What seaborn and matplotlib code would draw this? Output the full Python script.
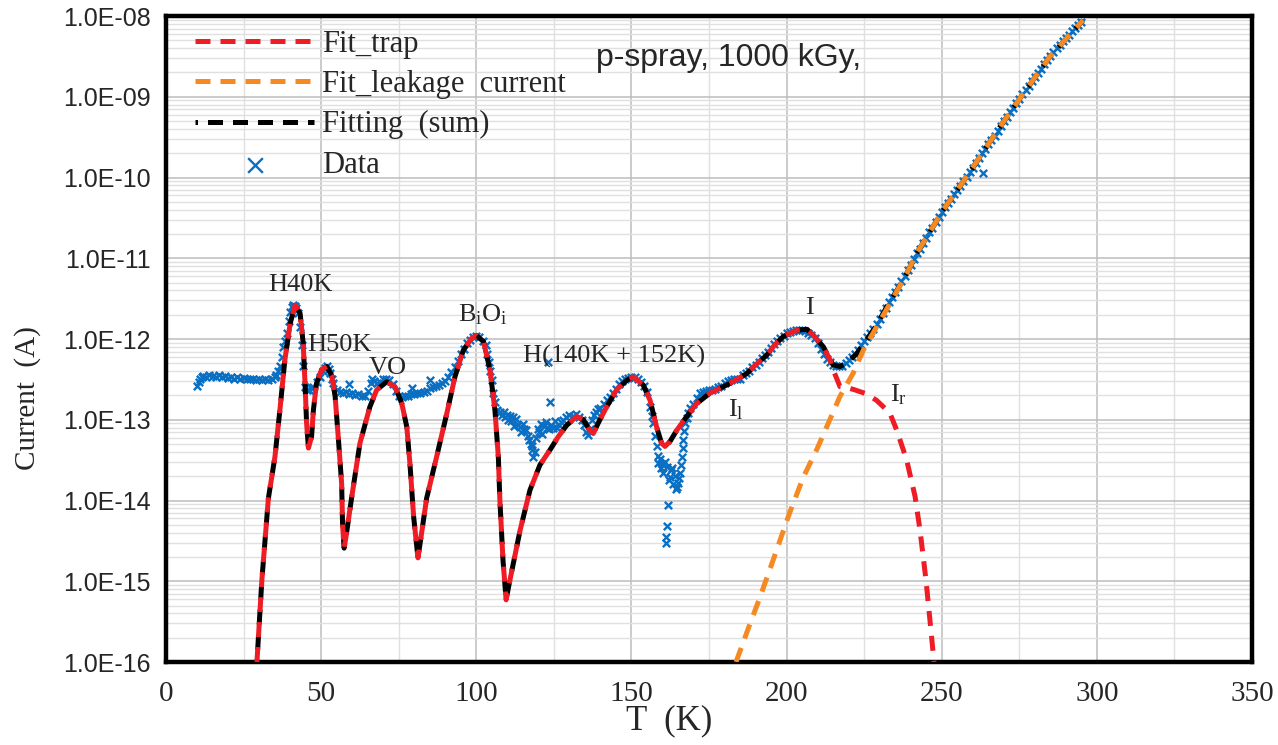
import numpy as np
import pandas as pd
import matplotlib
matplotlib.use("Agg")
import matplotlib.pyplot as plt
import matplotlib.ticker as mticker
import seaborn as sns

# measured TSC data: (T in K, log10 of current in A)
data_pts = [
    (10.0, -12.58), (10.5, -12.53), (11, -12.49), (11.5, -12.47), (12, -12.46), (13, -12.47), (14, -12.45),
    (15, -12.46), (16, -12.47), (17, -12.45), (18, -12.47), (19, -12.46), (20, -12.48), (21, -12.47),
    (22, -12.49), (23, -12.47), (24, -12.49), (25, -12.48), (26, -12.50), (27, -12.49), (28, -12.50),
    (29, -12.51), (30, -12.50), (31, -12.51), (32, -12.50), (33, -12.51), (34, -12.49), (35, -12.47),
    (35.5, -12.44), (36, -12.40), (36.7, -12.34), (37.3, -12.22), (37.8, -12.10), (38.3, -12.02),
    (38.9, -11.93), (39.5, -11.78), (40.0, -11.66), (40.5, -11.60), (41.0, -11.58), (41.5, -11.59),
    (42.0, -11.62), (42.6, -11.68), (43.2, -11.85), (43.7, -12.07), (44.2, -12.34), (44.8, -12.59),
    (45.3, -12.63), (46.0, -12.63), (46.6, -12.61), (47.5, -12.59), (48.5, -12.53), (49.6, -12.47),
    (50.5, -12.40), (51.2, -12.36), (51.8, -12.33), (52.4, -12.37), (52.9, -12.42), (53.4, -12.49),
    (53.9, -12.55), (55, -12.63), (56, -12.66), (57, -12.67), (58, -12.66), (59, -12.68), (59.1, -12.56),
    (60, -12.67), (61, -12.69), (62, -12.68), (63, -12.70), (64, -12.71), (65, -12.65), (66, -12.55),
    (66.3, -12.50), (67, -12.52), (68, -12.54), (69, -12.53), (70, -12.50), (71, -12.49), (72, -12.51),
    (73, -12.56), (74, -12.65), (75, -12.71), (76, -12.72), (77, -12.71), (78, -12.70), (79, -12.68),
    (79.2, -12.61), (80, -12.68), (81, -12.67), (82, -12.67), (83, -12.66), (84, -12.64), (85, -12.61),
    (85.1, -12.51), (86, -12.60), (87, -12.58), (88, -12.57), (89, -12.55), (90, -12.52), (91, -12.47),
    (92, -12.41), (93, -12.35), (94, -12.27), (95, -12.18), (96, -12.12), (97, -12.05), (98, -12.01),
    (99, -11.97), (100, -11.96), (101, -11.97), (102, -12.02), (103, -12.08), (103.5, -12.18),
    (104, -12.28), (104.5, -12.40), (105, -12.51), (105.5, -12.67), (106, -12.78), (106.6, -12.88),
    (107.2, -12.92), (107.6, -12.90), (108.2, -12.94), (108.8, -12.90), (109.3, -12.96), (109.8, -12.94),
    (110.3, -13.00), (110.8, -12.95), (111.3, -13.02), (111.8, -12.97), (112.3, -13.08), (112.8, -12.99),
    (113.4, -13.06), (114, -13.09), (114.5, -13.15), (115, -13.05), (115.5, -13.12), (116, -13.13),
    (116.5, -13.20), (117, -13.25), (117.5, -13.30), (117.8, -13.38), (118.1, -13.33), (118.4, -13.46),
    (118.8, -13.40), (119.3, -13.22), (119.8, -13.12), (120.3, -13.15), (120.8, -13.05), (121.3, -13.18),
    (121.8, -13.08), (122.4, -13.03), (122.9, -13.10), (123.2, -12.28), (123.5, -13.12), (123.8, -12.78),
    (124.2, -13.07), (124.8, -13.10), (125.4, -13.02), (126, -13.10), (126.6, -13.06), (127.2, -13.03),
    (128, -13.00), (129, -12.97), (130, -12.94), (131, -12.95), (132, -12.93), (133, -12.97), (134, -13.00),
    (134.8, -13.07), (135.5, -13.15), (136.1, -13.19), (136.7, -13.12), (137.3, -13.00), (137.8, -12.94),
    (138.5, -12.90), (139.2, -12.87), (140, -12.85), (141, -12.80), (142, -12.76), (143, -12.72),
    (144, -12.67), (145, -12.62), (146, -12.56), (147, -12.52), (148, -12.50), (149, -12.48), (150, -12.47),
    (151, -12.47), (152, -12.50), (153, -12.53), (154, -12.58), (155, -12.66), (156, -12.84), (156.5, -12.95),
    (157, -13.04), (157.6, -13.20), (158.1, -13.33), (158.5, -13.45), (158.7, -13.54), (159.1, -13.48),
    (159.5, -13.60), (160, -13.55), (160.3, -13.66), (160.8, -13.52), (161.0, -14.45), (161.1, -14.53),
    (161.3, -14.32), (161.4, -13.58), (161.9, -14.06), (162, -13.75), (162.4, -13.71), (162.8, -13.62),
    (163, -13.60), (163.5, -13.79), (164, -13.70), (164.3, -13.86), (164.6, -13.83), (165.0, -13.78),
    (165.3, -13.72), (165.6, -13.66), (165.9, -13.56), (166.2, -13.46), (166.5, -13.35), (166.7, -13.25),
    (167, -13.14), (167.3, -13.04), (167.8, -12.98), (168.3, -12.92), (169, -12.86), (169.9, -12.80),
    (171, -12.73), (172, -12.67), (173, -12.66), (174, -12.64), (175, -12.63), (176, -12.63), (177, -12.62),
    (178, -12.60), (179, -12.58), (180, -12.55), (181, -12.52), (182, -12.51), (183, -12.50), (184, -12.50),
    (185, -12.49), (186, -12.45), (187, -12.42), (188, -12.39), (189, -12.35), (190, -12.32), (191, -12.28),
    (192, -12.24), (193, -12.20), (194, -12.16), (195, -12.11), (196, -12.06), (197, -12.02), (198, -11.99),
    (199, -11.96), (200, -11.93), (201, -11.91), (202, -11.90), (203, -11.89), (204, -11.89), (205, -11.89),
    (206, -11.90), (207, -11.92), (208, -11.95), (209, -11.99), (210, -12.05), (211, -12.12), (212, -12.19),
    (213, -12.25), (214, -12.29), (215, -12.32), (216, -12.33), (217, -12.34), (218, -12.33), (219, -12.30),
    (220, -12.26), (221, -12.22), (222, -12.18), (223, -12.13), (224, -12.08), (225, -12.03), (226, -11.98),
    (227, -11.92), (228, -11.87), (229, -11.81), (230, -11.75), (231, -11.68), (232, -11.61), (233, -11.54),
    (234, -11.48), (235, -11.42), (236, -11.35), (237, -11.28), (238, -11.22), (239, -11.15), (240, -11.08),
    (241, -11.01), (242, -10.94), (243, -10.88), (244, -10.81), (245, -10.75), (246, -10.68), (247, -10.62),
    (248, -10.55), (249, -10.49), (250, -10.43), (251, -10.37), (252, -10.31), (253, -10.26), (254, -10.20),
    (255, -10.15), (256, -10.10), (257, -10.04), (258, -9.99), (259, -9.93), (260, -9.88), (261, -9.82),
    (262, -9.76), (263, -9.70), (263.4, -9.95), (264, -9.65), (265, -9.59), (266, -9.53), (267, -9.48),
    (268, -9.42), (269, -9.36), (270, -9.30), (271, -9.25), (272, -9.19), (273, -9.14), (274, -9.08),
    (275, -9.03), (276, -8.97), (277, -8.92), (278, -8.87), (279, -8.81), (280, -8.76), (281, -8.71),
    (282, -8.66), (283, -8.60), (284, -8.55), (285, -8.50), (286, -8.45), (287, -8.40), (288, -8.36),
    (289, -8.31), (290, -8.27), (291, -8.23), (292, -8.19), (293, -8.15), (294, -8.11), (295, -8.07),
]

# trap fit (red)
trap_pts = [
    (29.3, -16.0), (30.9, -14.98), (33.0, -13.97), (35.1, -13.46), (36.7, -12.88), (38.3, -12.26),
    (40.0, -11.81), (41.6, -11.58), (43.2, -11.68), (44.2, -12.05), (44.8, -12.55), (45.3, -13.04),
    (45.9, -13.35), (46.9, -13.21), (47.5, -12.88), (48.5, -12.55), (50.1, -12.38), (51.8, -12.34),
    (53.4, -12.45), (54.5, -12.71), (55.5, -13.21), (56.6, -13.79), (56.9, -14.30), (57.4, -14.59),
    (58.0, -14.45), (59.8, -13.97), (62.5, -13.29), (65.7, -12.84), (67.9, -12.63), (71.1, -12.53),
    (73.8, -12.59), (76.0, -12.80), (77.6, -13.09), (78.6, -13.54), (79.8, -14.20), (81.2, -14.71),
    (82.0, -14.50), (84.0, -13.97), (87.2, -13.46), (90.5, -12.92), (93.1, -12.47), (95.8, -12.14),
    (98.5, -11.99), (100.1, -11.96), (102.3, -12.03), (104.4, -12.38), (106.0, -12.88), (107.1, -13.46),
    (107.6, -14.00), (108.6, -14.74), (109.6, -15.23), (110.5, -15.05), (111.5, -14.86), (114.1, -14.37),
    (117.3, -13.87), (120.5, -13.56), (123.8, -13.37), (126.4, -13.21), (129.1, -13.07), (132.3, -12.96),
    (134.5, -13.00), (136.6, -13.13), (137.7, -13.17), (139.3, -13.04), (142.0, -12.84), (145.2, -12.63),
    (148.5, -12.51), (150.6, -12.47), (153.8, -12.57), (156.0, -12.76), (158.1, -13.09), (159.7, -13.29),
    (160.8, -13.33), (162.4, -13.27), (164.6, -13.13), (167.8, -12.96), (171.0, -12.80), (175.3, -12.67),
    (179.6, -12.59), (181.7, -12.55), (187.1, -12.43), (190.0, -12.32), (193.6, -12.20), (196.0, -12.08),
    (198.9, -11.97), (203.2, -11.89), (206.5, -11.88), (208.6, -11.95), (211.9, -12.10), (214.0, -12.26),
    (215.0, -12.38), (217.2, -12.59), (219.4, -12.60), (222.0, -12.63), (225.8, -12.68), (229.0, -12.76),
    (231.2, -12.84), (233.3, -12.92), (235.5, -13.13), (238.7, -13.50), (241.4, -13.95), (243.0, -14.37),
    (244.9, -14.98), (246.5, -15.60), (247.5, -16.0),
]

# leakage current fit (orange)
leak_pts = [
    (183.7, -16.0), (187.5, -15.60), (191.4, -15.20), (196.0, -14.70), (201.0, -14.15), (205.4, -13.71),
    (209.7, -13.37), (212.9, -13.09), (217.2, -12.71), (221.5, -12.42), (224.7, -12.14), (229.0, -11.85),
    (233.3, -11.56), (238.7, -11.19), (241.9, -10.94), (250.5, -10.40), (258.0, -9.99), (263.4, -9.68),
    (268.8, -9.37), (276.3, -8.96), (284.9, -8.50), (295.6, -8.05),
]

# sum of the fits (black)
sum_pts = [p for p in trap_pts if p[0] <= 214.0] + [
    (215.0, -12.32), (216.0, -12.33), (217.2, -12.34), (219.4, -12.30), (222.6, -12.18), (225.8, -12.01),
    (229.0, -11.83), (232.3, -11.60), (235.5, -11.40), (238.7, -11.19), (241.9, -10.94), (250.5, -10.40),
    (258.0, -9.99), (263.4, -9.68), (268.8, -9.37), (276.3, -8.96), (284.9, -8.50), (295.6, -8.05),
]

# peak labels: (text, T, log10 I)
peak_labels = [
    ("H40K", 43.2, -11.33),
    ("H50K", 55.8, -12.07),
    ("VO", 71.5, -12.36),
    (r"$\mathregular{B_iO_i}$", 102.0, -11.70),
    ("H(140K + 152K)", 144.4, -12.22),
    ("I", 207.5, -11.62),
    (r"$\mathregular{I_l}$", 183.6, -12.87),
    (r"$\mathregular{I_r}$", 236.0, -12.69),
]


def to_df(pts):
    d = pd.DataFrame(pts, columns=["T", "logI"])
    d["I"] = 10 ** d["logI"]
    return d


df_data = to_df(data_pts)
df_trap = to_df(trap_pts)
df_leak = to_df(leak_pts)
df_sum = to_df(sum_pts)

sns.set_style("white")
plt.rcParams["font.family"] = ["Liberation Serif", "DejaVu Serif"]
plt.rcParams["mathtext.fontset"] = "custom"
plt.rcParams["mathtext.rm"] = "Liberation Serif"

RED = "#ee1c25"
ORANGE = "#f58a23"
BLUE = "#0a6fc2"

fig = plt.figure(figsize=(12.78, 7.45), dpi=100)
ax = fig.add_axes([0.1299, 0.1114, 0.8498, 0.8671])

sns.scatterplot(data=df_data, x="T", y="I", marker="x", color=BLUE, s=28,
                linewidth=1.7, ax=ax, label="Data", zorder=3)
sns.lineplot(data=df_sum, x="T", y="I", color="black", lw=3.6, estimator=None,
             linestyle=(2.5, (3, 2)), ax=ax, label="Fitting  (sum)", zorder=4)
sns.lineplot(data=df_trap, x="T", y="I", color=RED, lw=3.6, estimator=None,
             linestyle=(0, (3, 2)), ax=ax, label="Fit_trap", zorder=5)
sns.lineplot(data=df_leak, x="T", y="I", color=ORANGE, lw=3.6, estimator=None,
             linestyle=(0, (3, 2)), ax=ax, label="Fit_leakage  current", zorder=5)

ax.set_yscale("log")
ax.set_xlim(0, 350)
ax.set_ylim(1e-16, 1e-8)

ax.xaxis.set_major_locator(mticker.MultipleLocator(50))
ax.xaxis.set_minor_locator(mticker.MultipleLocator(25))
ax.yaxis.set_major_locator(mticker.LogLocator(base=10, numticks=20))
ax.yaxis.set_minor_locator(mticker.LogLocator(base=10, subs=np.arange(2, 10), numticks=20))
ax.yaxis.set_major_formatter(mticker.FuncFormatter(lambda v, _: f"{v:.1E}"))
ax.yaxis.set_minor_formatter(mticker.NullFormatter())

ax.grid(which="major", color="#bdbdbd", lw=1.1)
ax.grid(which="minor", color="#e0e0e0", lw=1.0)
ax.set_axisbelow(True)

for s in ax.spines.values():
    s.set_linewidth(3.2)
    s.set_color("black")

ax.tick_params(axis="both", which="major", direction="out", length=8, width=3.2, color="black")
ax.tick_params(axis="both", which="minor", direction="out", length=5.5, width=2.5, color="black")
ax.tick_params(axis="x", labelsize=21, pad=6)
ax.tick_params(axis="y", labelsize=18, pad=3)
for lab in ax.get_yticklabels():
    lab.set_family("Liberation Sans")

ax.set_xlabel("T  (K)", fontsize=25)
ax.xaxis.set_label_coords(0.463, -0.065)
ax.set_ylabel("Current  (A)", fontsize=21)
ax.yaxis.set_label_coords(-0.115, 0.409)

for txt, t, lg in peak_labels:
    ax.text(t, 10 ** lg, txt, fontsize=19, ha="center", va="center", zorder=6)

ax.text(138.5, 10 ** -8.52, "p-spray, 1000 kGy,", fontsize=23, family="Liberation Sans",
        ha="left", va="center", zorder=6)

handles, labels = ax.get_legend_handles_labels()
order = ["Fit_trap", "Fit_leakage  current", "Fitting  (sum)", "Data"]
hmap = dict(zip(labels, handles))
leg = ax.legend([hmap[k] for k in order], order, loc="upper left", bbox_to_anchor=(0.014, 1.0),
                frameon=False, fontsize=22, handlelength=3.9, handletextpad=0.25,
                labelspacing=0.37, borderaxespad=0.05, markerscale=2.0)

fig.savefig("out.png", dpi=100)
